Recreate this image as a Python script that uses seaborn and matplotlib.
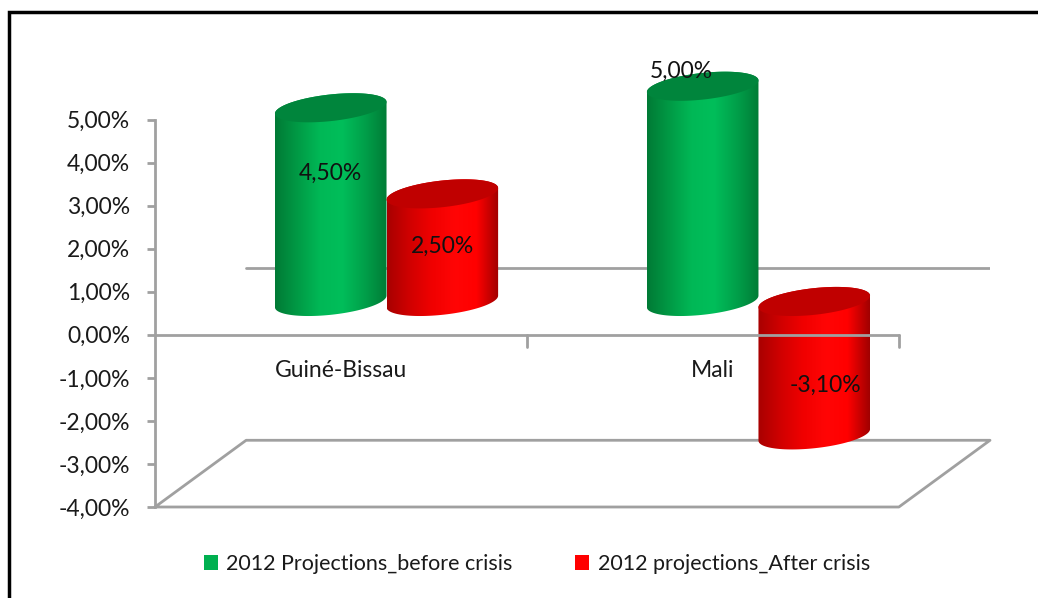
import numpy as np
import pandas as pd
import matplotlib
matplotlib.use('Agg')
import matplotlib.pyplot as plt
import seaborn as sns
from matplotlib.colors import LinearSegmentedColormap
from matplotlib.patches import Polygon, Patch, Rectangle
from matplotlib.ticker import FuncFormatter

# dados do grafico
paises = ['Guiné-Bissau', 'Mali']
series = ['2012 Projections_before crisis', '2012 projections_After crisis']
antes_crise = [4.50, 5.00]
depois_crise = [2.50, -3.10]

cores = ['#00b050', '#ff0000']
cores_topo = ['#00853c', '#c00000']
gradientes = [
    ['#007a35', '#009a45', '#00b856', '#00be5a', '#00a04a', '#007c36'],
    ['#a80000', '#d00000', '#f00000', '#ff0505', '#ff0000', '#a00000'],
]

df = pd.DataFrame({
    'pais': paises * 2,
    'serie': [series[0]] * 2 + [series[1]] * 2,
    'valor': antes_crise + depois_crise,
})

# profundidade do "3D" em unidades de dados
DX = 0.245
DY = 1.55
ELIPSE = 0.62      # altura da elipse do cilindro (em %)
INCL = 0.9         # inclinacao da elipse
CINZA = '#a0a0a0'

# posicao da etiqueta de cada barra (fracao do valor) e deslocamento em x
pos_rotulo = [[0.66, 1.07], [0.51, 0.63]]
desl_rotulo = [[0.0, -0.057], [0.0, 0.03]]

sns.set_style('white')
plt.rcParams['font.family'] = ['Lato', 'DejaVu Sans']

fig = plt.figure(figsize=(10.38, 5.98), dpi=100)
ax = fig.add_axes([155 / 1038, 91 / 598, 835 / 1038, 475.2 / 598])

sns.barplot(data=df, x='pais', y='valor', hue='serie', palette=cores,
            width=0.6, errorbar=None, legend=False, ax=ax)


def elipse(cx, yc, a, t):
    xs = cx + a * np.cos(t)
    ys = yc + ELIPSE / 2 * np.sin(t) + INCL * a * np.cos(t)
    return np.column_stack([xs, ys])


# transformando as barras em cilindros
for i, cont in enumerate(ax.containers):
    cmap = LinearSegmentedColormap.from_list('g%d' % i, gradientes[i])
    for j, barra in enumerate(cont):
        x0 = barra.get_x() + DX / 2
        w = barra.get_width()
        y0 = barra.get_y() + DY / 2
        h = barra.get_height()
        barra.set_visible(False)
        baixo = min(y0, y0 + h)
        alto = max(y0, y0 + h)
        cx = x0 + w / 2
        a = w / 2
        t_baixo = np.linspace(np.pi, 2 * np.pi, 60)
        t_cima = np.linspace(0, np.pi, 60)
        corpo = np.vstack([elipse(cx, baixo, a, t_baixo), elipse(cx, alto, a, t_cima)])
        clip = Polygon(corpo, closed=True, transform=ax.transData)
        grad = np.linspace(0, 1, 256).reshape(1, -1)
        im = ax.imshow(grad, cmap=cmap, aspect='auto', interpolation='bilinear',
                       extent=[x0, x0 + w, baixo - 1, alto + 1], zorder=3)
        im.set_clip_path(clip)
        topo = elipse(cx, alto, a, np.linspace(0, 2 * np.pi, 120))
        ax.add_patch(Polygon(topo, closed=True, facecolor=cores_topo[i],
                             edgecolor='none', zorder=4))
        # rotulo do valor
        valor = h
        ty = y0 + valor * pos_rotulo[i][j]
        ax.text(cx + desl_rotulo[i][j], ty, f'{valor:.2f}%'.replace('.', ','),
                ha='center', va='center', fontsize=16.5, color='#111111', zorder=6)

# chao e paredes
x_ini, x_fim = -0.5, len(paises) - 0.5
ymin = -4
piso_x = [x_ini, x_fim, x_fim + DX, x_ini + DX, x_ini]
piso_y = [ymin, ymin, ymin + DY, ymin + DY, ymin]
ax.plot(piso_x, piso_y, color=CINZA, lw=2, zorder=1, clip_on=False)
ax.plot([x_ini + DX, x_fim + DX], [DY, DY], color=CINZA, lw=2, zorder=1)
ax.plot([x_ini, x_fim], [0, 0], color=CINZA, lw=2, zorder=5)
for k in range(1, len(paises) + 1):
    ax.plot([x_ini + k, x_ini + k], [0, -0.28], color=CINZA, lw=2, zorder=5)

# nomes dos paises
for k, p in enumerate(paises):
    ax.text(k, -0.83, p, ha='center', va='center', fontsize=16.5, color='#1a1a1a')

ax.set_xlim(x_ini, x_fim + DX)
ax.set_ylim(-4, 7.04)
ax.set_xticks([])
ax.set_yticks(range(-4, 6))
ax.yaxis.set_major_formatter(FuncFormatter(lambda v, p: f'{v:.2f}%'.replace('.', ',')))
ax.tick_params(axis='y', left=True, length=6, width=2, color=CINZA, pad=12,
               labelsize=16.5, labelcolor='#1a1a1a')
ax.set_xlabel('')
ax.set_ylabel('')
for lado in ['top', 'right', 'bottom']:
    ax.spines[lado].set_visible(False)
ax.spines['left'].set_bounds(-4, 5)
ax.spines['left'].set_color(CINZA)
ax.spines['left'].set_linewidth(2)

# legenda
handles = [Patch(facecolor=c, edgecolor='none') for c in cores]
fig.legend(handles, series, loc='center', bbox_to_anchor=(0.517, 0.057), ncol=2,
           frameon=False, fontsize=15.5, handlelength=0.65, handleheight=0.65,
           handletextpad=0.4, columnspacing=2.9, labelcolor='#1a1a1a')

# moldura
fig.add_artist(Rectangle((9 / 1038, -0.1), 1.2, (598 - 12) / 598 + 0.1,
                         transform=fig.transFigure, fill=False, lw=2.5, ec='black'))

fig.savefig('out.png', dpi=100)
